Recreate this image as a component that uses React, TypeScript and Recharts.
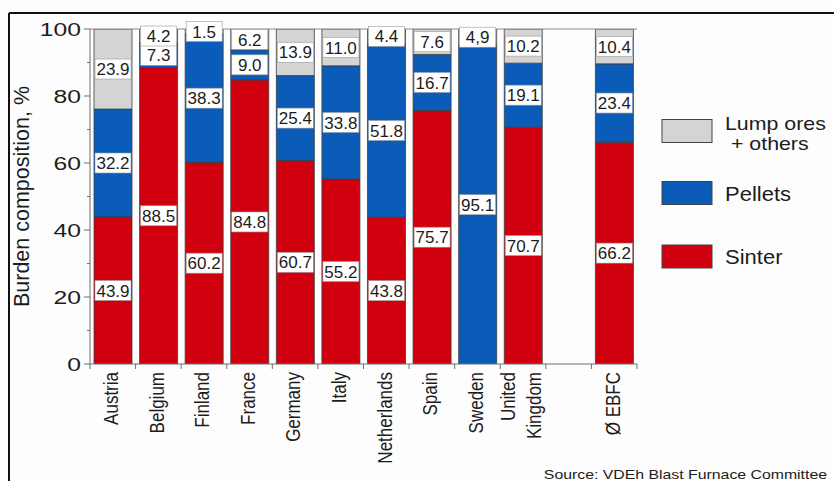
import React from 'react';
import { BarChart, Bar, XAxis, YAxis, LabelList, ReferenceLine } from 'recharts';

const categories = ['Austria', 'Belgium', 'Finland', 'France', 'Germany', 'Italy', 'Netherlands', 'Spain', 'Sweden', 'United\nKingdom', '', 'Ø EBFC'];
const sinter = [43.9, 88.5, 60.2, 84.8, 60.7, 55.2, 43.8, 75.7, 0, 70.7, null, 66.2];
const pellets = [32.2, 7.3, 38.3, 9.0, 25.4, 33.8, 51.8, 16.7, 95.1, 19.1, null, 23.4];
const lump = [23.9, 4.2, 1.5, 6.2, 13.9, 11.0, 4.4, 7.6, 4.9, 10.2, null, 10.4];
const lumpText = ['23.9', '4.2', '1.5', '6.2', '13.9', '11.0', '4.4', '7.6', '4,9', '10.2', '', '10.4'];
const yTicks = [0, 10, 20, 30, 40, 50, 60, 70, 80, 90, 100];

const RED = '#d0000e';
const BLUE = '#0b5cb8';
const GRAY = '#d4d4d4';
const FONT = '"Liberation Sans", Arial, Helvetica, sans-serif';
const TXT = '#1c1c1c';
const AXIS = '#6e6e6e';

const legendItems = [
  { lines: ['Lump ores', ' + others'], color: GRAY },
  { lines: ['Pellets'], color: BLUE },
  { lines: ['Sinter'], color: RED },
];

const fmt = (v: number | null) => (v == null || v === 0 ? '' : v.toFixed(1));

const data = categories.map((name, i) => ({
  name,
  sinter: sinter[i],
  pellets: pellets[i],
  lump: lump[i],
  sinterText: fmt(sinter[i]),
  pelletsText: fmt(pellets[i]),
  lumpText: lumpText[i],
}));

const BoxLabel = (props: any) => {
  const { x, y, width, height, value } = props;
  if (value === '' || value == null || !height) return null;
  const h = Math.abs(height);
  const top = height < 0 ? y + height : y;
  const cx = x + width / 2;
  const cy = top + h / 2;
  const w = width - 2;
  const bh = 20;
  return (
    <g>
      <rect x={cx - w / 2} y={cy - bh / 2} width={w} height={bh} fill="#ffffff" stroke="#9a9a9a" strokeWidth={0.6} />
      <text x={cx} y={cy} dy="0.36em" textAnchor="middle" fontSize={17} fontFamily={FONT} fill={TXT}>
        {value}
      </text>
    </g>
  );
};

const XTick = (props: any) => {
  const { x, y, payload, index } = props;
  const half = payload && typeof payload.offset === 'number' && payload.offset > 0 ? payload.offset : 547 / categories.length / 2;
  const lines = String(payload.value).split('\n').filter((l) => l.length > 0);
  const isLast = index === categories.length - 1;
  const lh = 26;
  return (
    <g>
      <line x1={x - half} x2={x - half} y1={y} y2={y + 5} stroke={AXIS} strokeWidth={1} />
      {isLast && <line x1={x + half} x2={x + half} y1={y} y2={y + 5} stroke={AXIS} strokeWidth={1} />}
      {lines.length > 0 && (
        <text
          transform={`translate(${x - 1.5},${y + 8}) scale(1.14,1) rotate(-90)`}
          textAnchor="end"
          fontSize={17}
          fontFamily={FONT}
          fill={TXT}
        >
          {lines.map((l, i) => (
            <tspan key={i} x={0} y={0} dy={6 + (i * lh - ((lines.length - 1) * lh) / 2) / 1.14}>
              {l}
            </tspan>
          ))}
        </text>
      )}
    </g>
  );
};

const YTick = (props: any) => {
  const { x, y, payload } = props;
  const major = payload.value % 20 === 0;
  return (
    <g>
      <line x1={x - (major ? 6 : 3)} x2={x} y1={y} y2={y} stroke={AXIS} strokeWidth={1} />
      {major && (
        <text transform={`translate(${x - 9},${y}) scale(1.3,1)`} dy="0.36em" textAnchor="end" fontSize={19} fontFamily={FONT} fill={TXT}>
          {payload.value}
        </text>
      )}
    </g>
  );
};

export default function App() {
  return (
    <div style={{ position: 'absolute', left: 0, top: 0, width: 834, height: 481, background: '#fdfdfd', fontFamily: FONT }}>
      <BarChart width={834} height={481} data={data} margin={{ top: 29, right: 197, bottom: 17, left: 30 }} barCategoryGap={4}>
        <XAxis
          dataKey="name"
          type="category"
          height={100}
          interval={0}
          tickSize={0}
          tickMargin={0}
          tickLine={false}
          axisLine={{ stroke: AXIS, strokeWidth: 1 }}
          tick={<XTick />}
        />
        <YAxis
          domain={[0, 100]}
          ticks={yTicks}
          width={60}
          interval={0}
          tickSize={0}
          tickMargin={0}
          tickLine={false}
          axisLine={{ stroke: AXIS, strokeWidth: 1 }}
          tick={<YTick />}
          allowDataOverflow
        />
        <YAxis yAxisId="frame" orientation="right" width={0} domain={[0, 100]} tick={false} tickLine={false} axisLine={{ stroke: '#8a8a8a', strokeWidth: 1 }} />
        <Bar dataKey="sinter" stackId="a" fill={RED} stroke="#3c3c3c" strokeWidth={0.8} isAnimationActive={false}>
          <LabelList dataKey="sinterText" content={<BoxLabel />} />
        </Bar>
        <Bar dataKey="pellets" stackId="a" fill={BLUE} stroke="#3c3c3c" strokeWidth={0.8} isAnimationActive={false}>
          <LabelList dataKey="pelletsText" content={<BoxLabel />} />
        </Bar>
        <Bar dataKey="lump" stackId="a" fill={GRAY} stroke="#3c3c3c" strokeWidth={0.8} isAnimationActive={false}>
          <LabelList dataKey="lumpText" content={<BoxLabel />} />
        </Bar>
        <ReferenceLine y={100} stroke="#8a8a8a" strokeWidth={1} />
      </BarChart>
      <svg width={834} height={481} style={{ position: 'absolute', left: 0, top: 0, pointerEvents: 'none' }}>
        <line x1={9} y1={13} x2={834} y2={13} stroke="#111" strokeWidth={2} />
        <line x1={9} y1={13} x2={9} y2={481} stroke="#111" strokeWidth={2} />
        <text
          transform="translate(29,196.5) rotate(-90)"
          textAnchor="middle"
          fontSize={21.5}
          fontFamily={FONT}
          fill={TXT}
        >
          Burden composition, %
        </text>
        {legendItems.map((it, i) => {
          const tops = [119.5, 181.5, 245];
          const top = tops[i];
          const multi = it.lines.length > 1;
          return (
            <g key={i}>
              <rect x={662} y={top} width={50} height={23} fill={it.color} stroke="#444" strokeWidth={1} />
              <text
                transform={`translate(725,${top + (multi ? 10 : 19)}) scale(${multi ? 1.22 : 1.1},1)`}
                fontSize={multi ? 17.5 : 20}
                fontFamily={FONT}
                fill={TXT}
                style={{ whiteSpace: 'pre' }}
              >
                {it.lines.map((l, j) => (
                  <tspan key={j} x={0} y={j * 20.5}>
                    {l}
                  </tspan>
                ))}
              </text>
            </g>
          );
        })}
        <text transform="translate(827,478.5) scale(1.2,1)" textAnchor="end" fontSize={13.2} fontFamily={FONT} fill={TXT}>
          Source: VDEh Blast Furnace Committee
        </text>
      </svg>
    </div>
  );
}
